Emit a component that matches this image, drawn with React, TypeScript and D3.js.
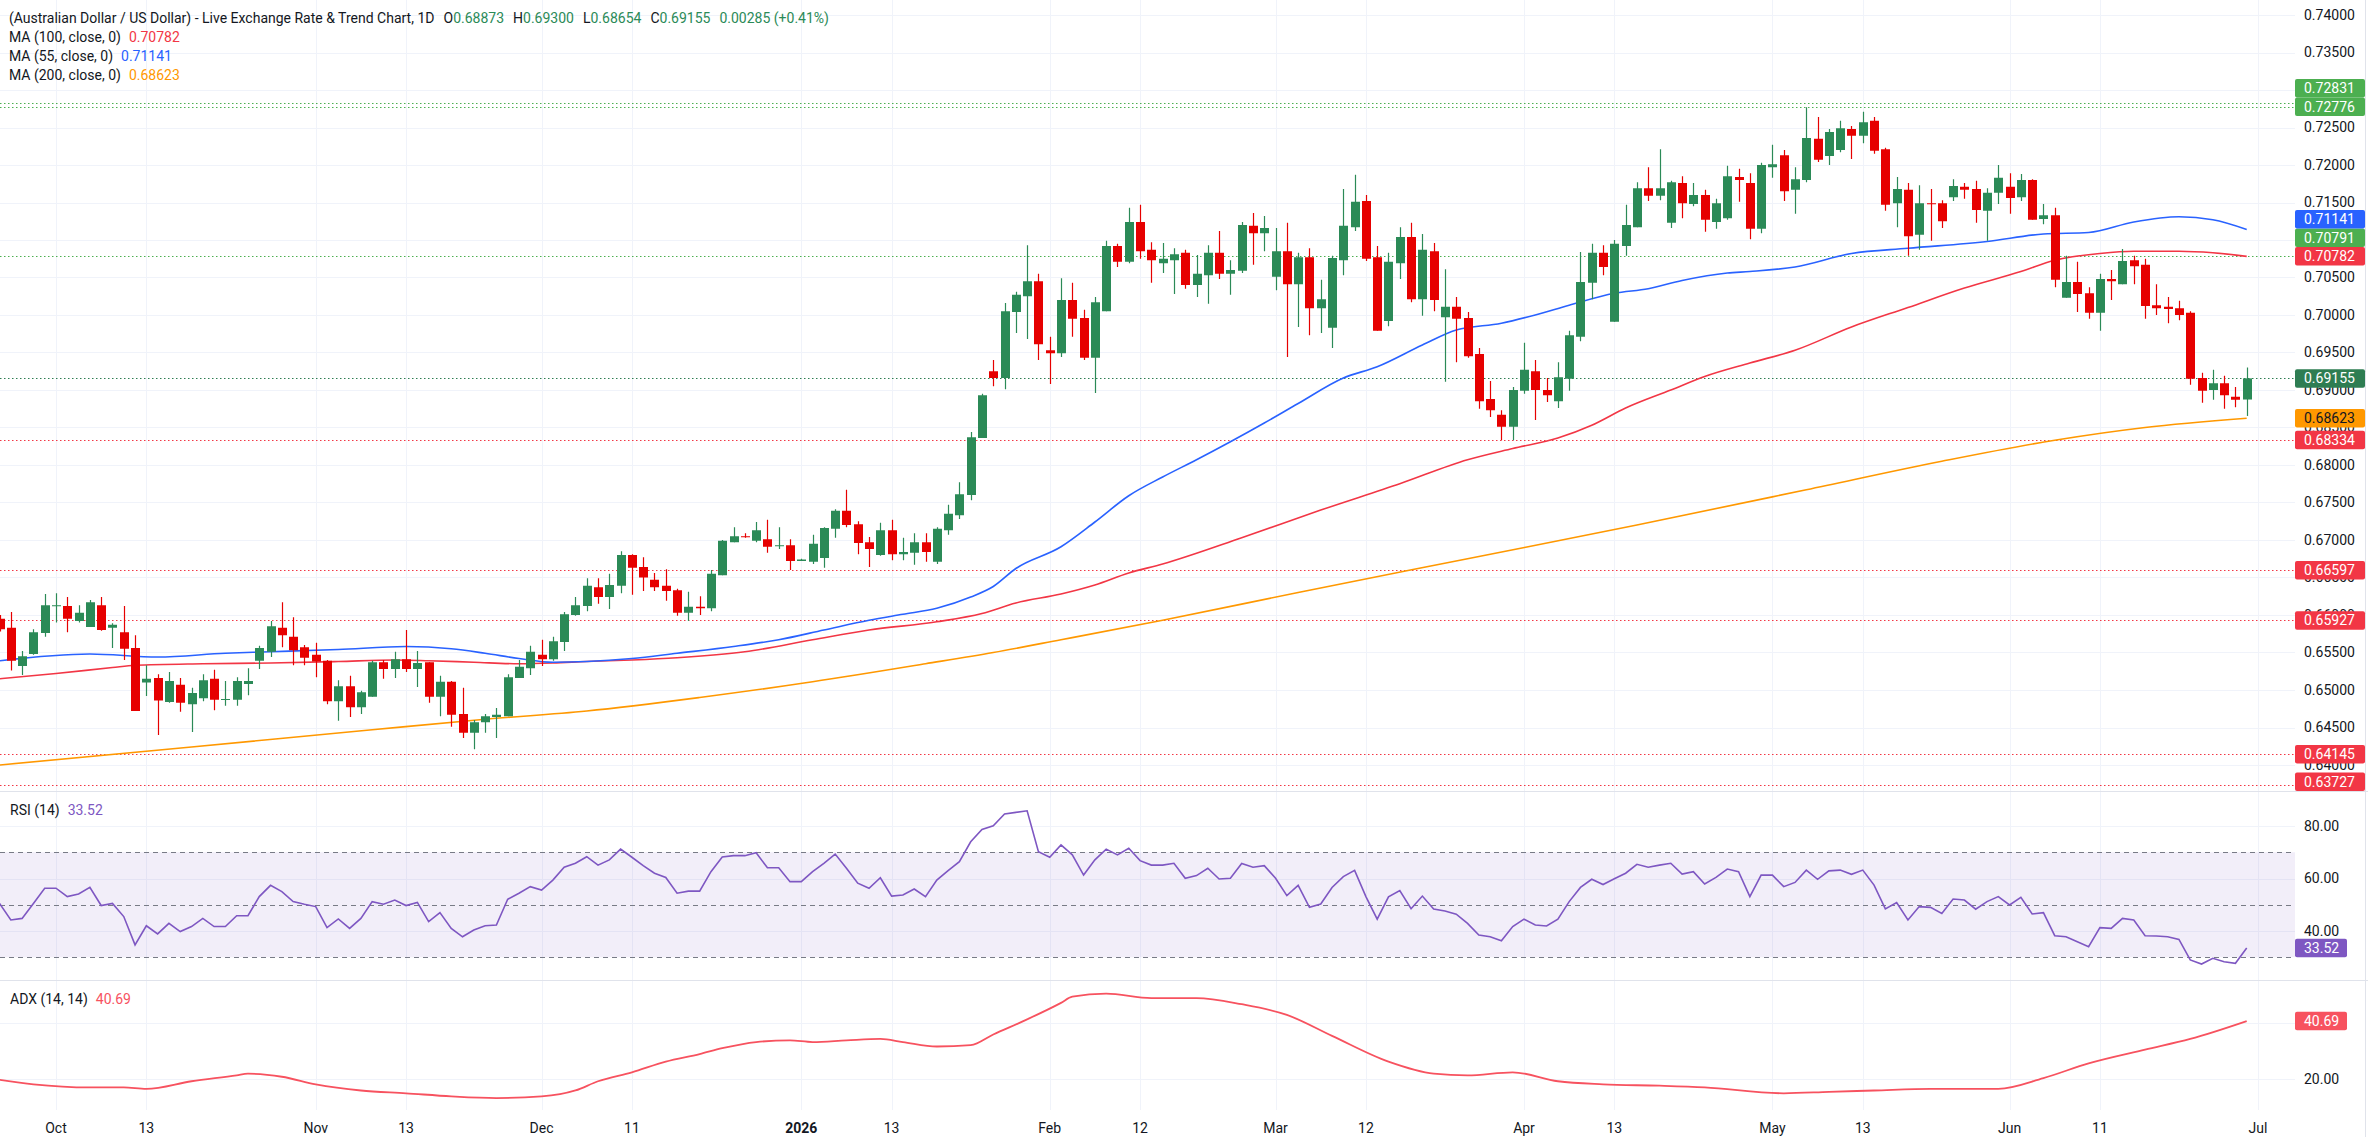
import React from "react";
import * as d3 from "d3";

// ---- data (AUD/USD daily, one value per trading day starting 2025-09-24) ----
const opens = [
  0.6595, 0.6583, 0.6532, 0.6548, 0.6576, 0.6612, 0.6612, 0.6592, 0.6584, 0.6613,
  0.6583, 0.6577, 0.6556, 0.651, 0.6516, 0.6484, 0.6507, 0.6481, 0.6489, 0.6515,
  0.6487, 0.6487, 0.6508, 0.6539, 0.6551, 0.6583, 0.6571, 0.6557, 0.6547, 0.6539,
  0.6485, 0.6505, 0.6477, 0.6491, 0.6537, 0.6528, 0.6541, 0.6528, 0.6537, 0.6491,
  0.6511, 0.6468, 0.6443, 0.6457, 0.6464, 0.6465, 0.6516, 0.6529, 0.6547, 0.6541,
  0.6564, 0.66, 0.6612, 0.6637, 0.6624, 0.6639, 0.668, 0.6664, 0.6647, 0.6639,
  0.6633, 0.6603, 0.6611, 0.6609, 0.6653, 0.6697, 0.6705, 0.6699, 0.6701, 0.6692,
  0.6693, 0.6672, 0.6671, 0.6676, 0.6715, 0.6739, 0.6721, 0.6697, 0.668, 0.6713,
  0.6681, 0.6683, 0.6697, 0.6671, 0.6713, 0.6733, 0.676, 0.6836, 0.6925, 0.6916,
  0.7004, 0.7025, 0.7045, 0.6953, 0.6949, 0.702, 0.6996, 0.6943, 0.7005, 0.7092,
  0.7071, 0.7124, 0.7087, 0.7069, 0.7073, 0.7083, 0.704, 0.7053, 0.7083, 0.7055,
  0.7059, 0.7119, 0.7109, 0.7051, 0.7085, 0.7041, 0.7077, 0.7009, 0.6983, 0.7073,
  0.7117, 0.7152, 0.7077, 0.6992, 0.7069, 0.7104, 0.7021, 0.7085, 0.6997, 0.7011,
  0.6996, 0.6948, 0.6888, 0.6867, 0.6851, 0.6899, 0.6925, 0.69, 0.6885, 0.6915,
  0.6971, 0.7043, 0.7083, 0.6991, 0.7092, 0.7117, 0.7169, 0.7159, 0.7123, 0.7176,
  0.7148, 0.716, 0.7124, 0.7129, 0.7184, 0.7176, 0.7115, 0.7197, 0.7213, 0.7167,
  0.718, 0.7235, 0.7212, 0.722, 0.7248, 0.7239, 0.7259, 0.7221, 0.7149, 0.7167,
  0.7107, 0.7149, 0.7149, 0.7157, 0.7171, 0.7168, 0.7139, 0.7163, 0.7171, 0.7157,
  0.718, 0.7128, 0.7133, 0.7023, 0.7044, 0.7029, 0.7003, 0.7048, 0.7041, 0.7073,
  0.7067, 0.7013, 0.7011, 0.7009, 0.7003, 0.6916, 0.69, 0.6909, 0.6891, 0.68873,
];
const highs = [
  0.66, 0.6604, 0.6552, 0.6581, 0.6628, 0.6629, 0.6624, 0.6613, 0.662, 0.6624,
  0.6589, 0.6612, 0.6573, 0.6533, 0.6521, 0.6524, 0.6516, 0.6503, 0.6521, 0.6527,
  0.6512, 0.6517, 0.6529, 0.6559, 0.6592, 0.6617, 0.6597, 0.656, 0.6563, 0.654,
  0.6513, 0.6519, 0.6499, 0.6539, 0.654, 0.6551, 0.658, 0.6552, 0.6537, 0.6519,
  0.6512, 0.6503, 0.646, 0.6468, 0.6476, 0.6521, 0.654, 0.6559, 0.6567, 0.6571,
  0.6604, 0.6624, 0.6649, 0.6649, 0.6655, 0.6685, 0.6681, 0.6677, 0.6656, 0.6661,
  0.6635, 0.6631, 0.6625, 0.666, 0.67, 0.6717, 0.6709, 0.6724, 0.6727, 0.6717,
  0.6701, 0.6675, 0.6707, 0.6717, 0.6741, 0.6767, 0.6725, 0.6704, 0.6723, 0.6727,
  0.6703, 0.6709, 0.6709, 0.6717, 0.6747, 0.6777, 0.6844, 0.6895, 0.694, 0.7016,
  0.7031, 0.7093, 0.7055, 0.6971, 0.7049, 0.7043, 0.7007, 0.7024, 0.7099, 0.7095,
  0.7143, 0.7147, 0.7097, 0.7096, 0.7089, 0.7087, 0.708, 0.7093, 0.7112, 0.7073,
  0.7124, 0.7136, 0.7132, 0.7116, 0.7123, 0.7083, 0.7089, 0.7047, 0.7079, 0.7168,
  0.7187, 0.716, 0.7092, 0.7083, 0.7117, 0.7123, 0.7108, 0.7096, 0.7061, 0.7024,
  0.7004, 0.6956, 0.6912, 0.6873, 0.6904, 0.6963, 0.694, 0.6916, 0.6937, 0.6979,
  0.7084, 0.7095, 0.7093, 0.71, 0.7147, 0.7177, 0.7197, 0.7221, 0.7179, 0.7185,
  0.7176, 0.7167, 0.7155, 0.7199, 0.7195, 0.7189, 0.7203, 0.7227, 0.722, 0.7197,
  0.7277, 0.7264, 0.7248, 0.7259, 0.7252, 0.7271, 0.7264, 0.7223, 0.7184, 0.7176,
  0.7173, 0.7168, 0.7153, 0.7181, 0.7176, 0.7179, 0.7169, 0.72, 0.7189, 0.7188,
  0.7181, 0.7148, 0.7143, 0.7079, 0.7071, 0.7037, 0.7055, 0.706, 0.7088, 0.7079,
  0.7075, 0.7041, 0.7024, 0.7019, 0.7005, 0.6923, 0.6927, 0.6919, 0.6904, 0.693,
];
const lows = [
  0.6578, 0.6526, 0.652, 0.6547, 0.6571, 0.659, 0.6577, 0.659, 0.6584, 0.6579,
  0.6556, 0.654, 0.6472, 0.6492, 0.644, 0.6483, 0.6471, 0.6444, 0.6485, 0.6473,
  0.6479, 0.6479, 0.6493, 0.6528, 0.6544, 0.6557, 0.6533, 0.6533, 0.6517, 0.6481,
  0.6459, 0.6464, 0.6468, 0.6491, 0.6515, 0.6516, 0.6524, 0.6504, 0.6483, 0.6465,
  0.6451, 0.6436, 0.6421, 0.6443, 0.6436, 0.6465, 0.6516, 0.652, 0.6532, 0.6539,
  0.6552, 0.6599, 0.6605, 0.6615, 0.6608, 0.6629, 0.6627, 0.6632, 0.6632, 0.6619,
  0.6599, 0.6592, 0.66, 0.6605, 0.6653, 0.6697, 0.6703, 0.6697, 0.6683, 0.6688,
  0.666, 0.6672, 0.6668, 0.6663, 0.6703, 0.6717, 0.6681, 0.6664, 0.6679, 0.6673,
  0.6673, 0.6667, 0.6671, 0.6668, 0.6707, 0.6728, 0.6753, 0.6836, 0.6905, 0.6901,
  0.6976, 0.6968, 0.694, 0.6908, 0.6944, 0.6971, 0.694, 0.6896, 0.7005, 0.7064,
  0.7069, 0.7075, 0.7043, 0.7056, 0.7028, 0.7035, 0.7024, 0.7015, 0.7048, 0.7027,
  0.7056, 0.7067, 0.7085, 0.7033, 0.6944, 0.6984, 0.6973, 0.6976, 0.6956, 0.7053,
  0.7112, 0.7072, 0.6979, 0.6985, 0.7048, 0.7017, 0.6999, 0.7005, 0.6911, 0.6937,
  0.6943, 0.6875, 0.6864, 0.6833, 0.6833, 0.6895, 0.686, 0.6884, 0.6876, 0.6899,
  0.6965, 0.7021, 0.7053, 0.6991, 0.7079, 0.7117, 0.7152, 0.7153, 0.7116, 0.7129,
  0.7145, 0.7111, 0.7115, 0.7127, 0.7151, 0.7101, 0.7109, 0.7183, 0.7152, 0.7135,
  0.7177, 0.7204, 0.72, 0.7217, 0.7208, 0.7229, 0.7215, 0.7139, 0.7117, 0.7079,
  0.7087, 0.7099, 0.7116, 0.7152, 0.7155, 0.7123, 0.7099, 0.7148, 0.7135, 0.7152,
  0.7127, 0.7121, 0.7037, 0.7023, 0.7004, 0.6995, 0.6979, 0.702, 0.7041, 0.7041,
  0.6995, 0.7, 0.6989, 0.6993, 0.6907, 0.6883, 0.6887, 0.6875, 0.6877, 0.68654,
];
const closes = [
  0.6581, 0.6539, 0.6545, 0.6577, 0.6613, 0.6613, 0.6595, 0.6603, 0.6617, 0.658,
  0.6587, 0.6555, 0.6472, 0.6515, 0.6486, 0.6512, 0.6483, 0.6496, 0.6513, 0.6487,
  0.6488, 0.6512, 0.6512, 0.6556, 0.6585, 0.6573, 0.6553, 0.6543, 0.6538, 0.6485,
  0.6505, 0.6477, 0.6497, 0.6537, 0.6528, 0.6541, 0.6528, 0.6536, 0.6491, 0.6511,
  0.6467, 0.6443, 0.6457, 0.6465, 0.6467, 0.6517, 0.6531, 0.6551, 0.6541, 0.6565,
  0.6601, 0.6613, 0.6639, 0.6624, 0.664, 0.668, 0.6663, 0.665, 0.6637, 0.6632,
  0.6603, 0.6611, 0.6609, 0.6655, 0.6699, 0.6705, 0.6704, 0.6713, 0.6691, 0.6693,
  0.6672, 0.6674, 0.6695, 0.6716, 0.6739, 0.672, 0.6696, 0.6688, 0.6713, 0.6681,
  0.6684, 0.6697, 0.6684, 0.6715, 0.6735, 0.6761, 0.6837, 0.6893, 0.6916, 0.7005,
  0.7027, 0.7045, 0.6961, 0.6949, 0.702, 0.6995, 0.6943, 0.7017, 0.7092, 0.7071,
  0.7124, 0.7085, 0.7073, 0.7075, 0.7081, 0.704, 0.7055, 0.7083, 0.7055, 0.706,
  0.712, 0.7109, 0.7116, 0.7085, 0.7041, 0.7077, 0.7009, 0.7021, 0.7076, 0.7119,
  0.7151, 0.7075, 0.6979, 0.7071, 0.7104, 0.7021, 0.7087, 0.702, 0.7011, 0.6995,
  0.6945, 0.6885, 0.6873, 0.6851, 0.69, 0.6927, 0.69, 0.6893, 0.6917, 0.6973,
  0.7044, 0.7083, 0.7064, 0.7095, 0.712, 0.7169, 0.7159, 0.7169, 0.7177, 0.7149,
  0.716, 0.7127, 0.7149, 0.7185, 0.718, 0.7115, 0.72, 0.7201, 0.7165, 0.7181,
  0.7236, 0.7207, 0.7244, 0.7249, 0.7239, 0.7257, 0.7219, 0.7147, 0.7168, 0.7105,
  0.7149, 0.7148, 0.7125, 0.7172, 0.7167, 0.714, 0.7163, 0.7183, 0.7156, 0.718,
  0.7127, 0.7133, 0.7047, 0.7044, 0.7028, 0.7003, 0.7048, 0.7045, 0.7072, 0.7065,
  0.7012, 0.7009, 0.7008, 0.7, 0.6915, 0.6899, 0.6909, 0.6893, 0.6887, 0.69155,
];

// moving averages: [bar, value]
const ma55: [number, number][] = [
  [0, 0.6539], [8, 0.6548], [14, 0.6544], [20, 0.6549], [24, 0.6551], [30, 0.6554], [36, 0.6558],
  [40, 0.6555], [43, 0.6549], [46, 0.6542], [49, 0.6537], [52, 0.6538], [56, 0.6542], [60, 0.6549],
  [65, 0.6558], [69, 0.6567], [73, 0.658], [77, 0.6593], [80, 0.6601], [83, 0.6609], [86, 0.6624],
  [88, 0.6638], [90, 0.6662], [94, 0.6691], [97, 0.6724], [100, 0.6759], [103, 0.6784], [106, 0.6807],
  [109, 0.6831], [112, 0.6856], [115, 0.6882], [119, 0.6916], [122, 0.6931], [126, 0.696], [129, 0.698],
  [133, 0.6989], [136, 0.7], [139, 0.7013], [143, 0.7029], [146, 0.7035], [149, 0.7046], [153, 0.7056],
  [155, 0.7058], [159, 0.7064], [164, 0.7082], [169, 0.7089], [176, 0.7098], [181, 0.7108], [185, 0.711],
  [189, 0.7124], [193, 0.7131], [196, 0.7127], [199, 0.71141],
];
const ma100: [number, number][] = [
  [0, 0.6515], [5, 0.6522], [10, 0.653], [12, 0.6533], [18, 0.6535], [24, 0.6536], [30, 0.6538],
  [35, 0.654], [38, 0.6539], [42, 0.6537], [46, 0.6535], [49, 0.6536], [52, 0.6538], [56, 0.654],
  [60, 0.6543], [66, 0.6551], [72, 0.6567], [77, 0.658], [83, 0.6591], [87, 0.6602], [90, 0.6616],
  [94, 0.6628], [97, 0.664], [100, 0.6656], [103, 0.6668], [110, 0.6703], [117, 0.674], [124, 0.6775],
  [130, 0.6807], [134, 0.6822], [138, 0.6836], [141, 0.6853], [144, 0.6876], [148, 0.69], [151, 0.6918],
  [155, 0.6936], [159, 0.6953], [164, 0.6984], [169, 0.701], [174, 0.7036], [179, 0.7058], [182, 0.7073],
  [186, 0.7082], [189, 0.7085], [193, 0.7085], [196, 0.7083], [199, 0.70782],
];
const ma200: [number, number][] = [
  [0, 0.64], [17, 0.6424], [33, 0.6447], [43, 0.6461], [52, 0.6472], [62, 0.649], [72, 0.6511],
  [82, 0.6535], [88, 0.655], [94, 0.6567], [103, 0.6593], [115, 0.663], [130, 0.6675], [145, 0.672],
  [160, 0.6767], [172, 0.6805], [182, 0.6833], [190, 0.685], [199, 0.68623],
];

const rsi = [
  50.5, 44.2, 44.8, 50.5, 56.3, 56.3, 53.1, 54.1, 56.6, 49.7,
  50.5, 45.5, 34.7, 42.0, 38.9, 42.9, 39.8, 41.7, 44.8, 41.7,
  41.7, 45.8, 45.8, 53.1, 57.4, 55.0, 51.2, 50.2, 49.3, 41.3,
  44.6, 41.0, 44.8, 51.2, 50.2, 51.8, 49.7, 50.9, 43.6, 47.0,
  41.0, 37.8, 40.4, 42.0, 42.3, 52.1, 54.4, 56.9, 55.6, 59.4,
  64.3, 65.8, 68.3, 65.1, 67.1, 71.2, 68.1, 64.9, 62.0, 60.4,
  54.4, 55.2, 55.2, 62.6, 68.2, 68.7, 68.7, 69.8, 64.1, 64.1,
  58.8, 58.8, 62.6, 65.8, 69.3, 63.9, 58.2, 56.3, 60.3, 53.3,
  53.7, 56.0, 53.1, 59.4, 63.0, 66.4, 74.0, 78.7, 80.1, 84.6,
  85.2, 85.8, 70.2, 68.1, 72.8, 69.0, 61.3, 67.1, 71.2, 69.0,
  71.5, 66.8, 65.1, 65.1, 65.8, 60.1, 61.1, 63.9, 59.8, 60.1,
  65.7, 64.3, 64.9, 60.1, 53.5, 57.4, 49.0, 50.3, 56.6, 60.7,
  63.1, 53.1, 44.5, 53.0, 55.4, 48.5, 53.3, 48.4, 47.6, 46.4,
  42.9, 38.5, 37.8, 36.3, 41.7, 44.5, 42.3, 41.9, 44.5, 51.2,
  56.6, 59.7, 57.7, 59.9, 62.0, 65.4, 64.3, 65.1, 65.8, 61.7,
  62.6, 57.9, 60.4, 63.6, 62.6, 53.1, 61.3, 61.3, 56.9, 58.5,
  63.2, 59.7, 62.9, 63.2, 61.6, 63.2, 57.5, 48.4, 50.8, 44.2,
  49.3, 49.0, 46.7, 52.2, 51.8, 48.3, 51.2, 53.1, 49.9, 52.8,
  46.5, 47.0, 38.2, 37.8, 35.9, 34.0, 41.3, 41.0, 44.8, 44.2,
  38.2, 38.1, 37.8, 36.8, 29.0, 27.4, 29.6, 28.3, 27.7, 33.52,
];

const adx: [number, number][] = [
  [0, 19.7], [3, 18.1], [8, 17.0], [11, 17.0], [13, 16.5], [17, 19.2], [21, 21.3], [22, 21.9],
  [25, 20.8], [28, 18.1], [32, 15.9], [36, 14.9], [40, 13.8], [44, 13.2], [48, 13.8], [51, 15.9],
  [53, 19.2], [56, 22.4], [59, 26.2], [62, 28.9], [64, 31.0], [67, 33.2], [70, 33.8], [72, 33.2],
  [75, 33.8], [78, 34.3], [80, 33.2], [83, 31.6], [86, 32.1], [88, 35.9], [91, 41.3], [94, 47.2],
  [95, 49.4], [98, 50.5], [102, 48.9], [106, 48.9], [110, 46.7], [114, 42.9], [118, 35.4], [123, 26.2],
  [127, 21.9], [130, 21.3], [134, 22.4], [138, 19.2], [142, 18.1], [147, 17.6], [151, 17.0], [158, 14.9],
  [162, 15.4], [166, 15.9], [171, 16.5], [177, 16.5], [181, 20.3], [185, 25.6], [190, 30.5], [194, 34.3],
  [199, 40.69],
];

const resistanceLevels = [0.72831, 0.72776, 0.70791];
const supportLevels = [0.68334, 0.66597, 0.65927, 0.64145, 0.63727];

const tickDates = [
  "2025-10-01", "2025-10-13", "2025-11-03", "2025-11-13", "2025-12-01", "2025-12-11", "2026-01-01",
  "2026-01-13", "2026-02-02", "2026-02-12", "2026-03-02", "2026-03-12", "2026-04-01", "2026-04-13",
  "2026-05-01", "2026-05-13", "2026-06-01", "2026-06-11", "2026-07-01",
];
const tickLabels = [
  "Oct", "13", "Nov", "13", "Dec", "11", "2026", "13", "Feb", "12", "Mar", "12", "Apr", "13",
  "May", "13", "Jun", "11", "Jul",
];
const priceTicks = d3.range(0.64, 0.74001, 0.005);
const rsiTicks = [80, 60, 40];
const adxTicks = [40, 20];

// ---- layout ----
const W = 2368;
const H = 1137;
const PLOT_R = 2295;
const MAIN_B = 791;
const RSI_T = 792;
const RSI_B = 980;
const ADX_T = 981;
const GRID_B = 1110;
const FONT = "Roboto, 'Noto Sans', Arial, sans-serif";
const TEXT = "#131722";
const UP = "#2b8a57";
const DOWN = "#e60000";

const START = Date.UTC(2025, 8, 24);
function barIndex(s: string) {
  const t = Date.parse(s + "T00:00:00Z");
  let n = 0;
  for (let d = START; d < t; d += 86400000) {
    const wd = new Date(d).getUTCDay();
    if (wd !== 0 && wd !== 6) n++;
  }
  return n;
}

export default function App() {
  const x = d3.scaleLinear().domain([5, 200]).range([56, 2258]);
  const y = d3.scaleLinear().domain([0.74, 0.64]).range([15, 765]);
  const yR = d3.scaleLinear().domain([80, 40]).range([826, 931]);
  const yA = d3.scaleLinear().domain([40, 20]).range([1023, 1079]);
  const fmt = d3.format(".5f");

  const priceLine = d3
    .line<[number, number]>()
    .x((d) => x(d[0]))
    .y((d) => y(d[1]))
    .curve(d3.curveMonotoneX);
  const rsiLine = d3
    .line<number>()
    .x((_, i) => x(i))
    .y((d) => yR(d));
  const adxLine = d3
    .line<[number, number]>()
    .x((d) => x(d[0]))
    .y((d) => yA(d[1]))
    .curve(d3.curveMonotoneX);

  const n = closes.length;
  const last = n - 1;
  const chg = closes[last] - closes[last - 1];
  const chgPct = (chg / closes[last - 1]) * 100;

  // right-axis badges, stacked so they don't overlap
  const badges = [
    ...resistanceLevels.map((v) => ({ v, bg: "#4caf50", fg: "#fff" })),
    ...supportLevels.map((v) => ({ v, bg: "#f23645", fg: "#fff" })),
    { v: closes[last], bg: "#2e7d52", fg: "#fff" },
    { v: ma55[ma55.length - 1][1], bg: "#2962ff", fg: "#fff" },
    { v: ma100[ma100.length - 1][1], bg: "#f23645", fg: "#fff" },
    { v: ma200[ma200.length - 1][1], bg: "#ff9800", fg: "#131722" },
  ].sort((a, b) => a.v - b.v);
  const BH = 18.5;
  let prev = MAIN_B - BH / 2 + BH;
  const placed = badges.map((b) => {
    const cy = Math.min(y(b.v), prev - BH);
    prev = cy;
    return { ...b, cy };
  });

  const gridColor = "#f0f3fa";

  return (
    <div>
      <style>{"body{margin:0;background:#fff}"}</style>
      <svg width={W} height={H} style={{ display: "block", fontFamily: FONT }}>
        <defs>
          <clipPath id="mainClip">
            <rect x={0} y={0} width={PLOT_R} height={MAIN_B} />
          </clipPath>
          <clipPath id="rsiClip">
            <rect x={0} y={RSI_T} width={PLOT_R} height={RSI_B - RSI_T} />
          </clipPath>
          <clipPath id="adxClip">
            <rect x={0} y={ADX_T} width={PLOT_R} height={GRID_B - ADX_T} />
          </clipPath>
        </defs>
        <rect x={0} y={0} width={W} height={H} fill="#fff" />

        {/* grid */}
        {priceTicks.map((t) => (
          <line key={"pg" + t} x1={0} x2={PLOT_R} y1={Math.round(y(t)) + 0.5} y2={Math.round(y(t)) + 0.5} stroke={gridColor} />
        ))}
        {rsiTicks.map((t) => (
          <line key={"rg" + t} x1={0} x2={PLOT_R} y1={Math.round(yR(t)) + 0.5} y2={Math.round(yR(t)) + 0.5} stroke={gridColor} />
        ))}
        {adxTicks.map((t) => (
          <line key={"ag" + t} x1={0} x2={PLOT_R} y1={Math.round(yA(t)) + 0.5} y2={Math.round(yA(t)) + 0.5} stroke={gridColor} />
        ))}
        {tickDates.map((d) => {
          const xx = Math.round(x(barIndex(d))) + 0.5;
          return <line key={"vg" + d} x1={xx} x2={xx} y1={0} y2={GRID_B} stroke={gridColor} />;
        })}

        {/* panel separators */}
        <line x1={0} x2={W} y1={MAIN_B + 0.5} y2={MAIN_B + 0.5} stroke="#e0e3eb" />
        <line x1={0} x2={W} y1={RSI_B + 0.5} y2={RSI_B + 0.5} stroke="#e0e3eb" />
        <line x1={W - 2.5} x2={W - 2.5} y1={0} y2={H} stroke="#e0e3eb" />

        {/* main panel */}
        <g clipPath="url(#mainClip)">
          {resistanceLevels.map((v) => (
            <line key={"rl" + v} x1={0} x2={PLOT_R} y1={Math.round(y(v)) + 0.5} y2={Math.round(y(v)) + 0.5} stroke="#4caf50" strokeDasharray="1.5,2.5" />
          ))}
          {supportLevels.map((v) => (
            <line key={"sl" + v} x1={0} x2={PLOT_R} y1={Math.round(y(v)) + 0.5} y2={Math.round(y(v)) + 0.5} stroke="#f23645" strokeDasharray="1.5,2.5" />
          ))}
          <line x1={0} x2={PLOT_R} y1={Math.round(y(closes[last])) + 0.5} y2={Math.round(y(closes[last])) + 0.5} stroke="#2e7d52" strokeDasharray="1.5,2.5" />

          <path d={priceLine(ma200) || ""} fill="none" stroke="#ff9800" strokeWidth={1.6} />
          <path d={priceLine(ma100) || ""} fill="none" stroke="#f23645" strokeWidth={1.6} />
          <path d={priceLine(ma55) || ""} fill="none" stroke="#2962ff" strokeWidth={1.6} />

          {closes.map((c, i) => {
            const o = opens[i];
            const col = c >= o ? UP : DOWN;
            const cx = Math.round(x(i));
            const top = y(Math.max(o, c));
            const bot = y(Math.min(o, c));
            return (
              <g key={"c" + i}>
                <line x1={cx + 0.5} x2={cx + 0.5} y1={y(highs[i])} y2={y(lows[i])} stroke={col} strokeWidth={1.2} />
                <rect x={cx - 4} y={top} width={9} height={Math.max(1, bot - top)} fill={col} />
              </g>
            );
          })}
        </g>

        {/* RSI panel */}
        <g clipPath="url(#rsiClip)">
          <rect x={0} y={yR(70)} width={PLOT_R} height={yR(30) - yR(70)} fill="rgba(126,87,194,0.1)" />
          {[70, 50, 30].map((v) => (
            <line key={"rd" + v} x1={0} x2={PLOT_R} y1={Math.round(yR(v)) + 0.5} y2={Math.round(yR(v)) + 0.5} stroke="#787b86" strokeDasharray="5,4" />
          ))}
          <path d={rsiLine(rsi) || ""} fill="none" stroke="#7e57c2" strokeWidth={1.6} />
        </g>

        {/* ADX panel */}
        <g clipPath="url(#adxClip)">
          <path d={adxLine(adx) || ""} fill="none" stroke="#f7525f" strokeWidth={1.8} />
        </g>

        {/* legends */}
        <text x={9} y={23} fontSize={14} fill={TEXT} style={{ whiteSpace: "pre" }}>
          <tspan>{"(Australian Dollar / US Dollar) - Live Exchange Rate & Trend Chart, 1D"}</tspan>
          <tspan dx={9}>O</tspan>
          <tspan fill={UP}>{fmt(opens[last])}</tspan>
          <tspan dx={9}>H</tspan>
          <tspan fill={UP}>{fmt(highs[last])}</tspan>
          <tspan dx={9}>L</tspan>
          <tspan fill={UP}>{fmt(lows[last])}</tspan>
          <tspan dx={9}>C</tspan>
          <tspan fill={UP}>{fmt(closes[last])}</tspan>
          <tspan dx={9} fill={UP}>{`${fmt(chg)} (+${chgPct.toFixed(2)}%)`}</tspan>
        </text>
        <text x={9} y={42} fontSize={14} fill={TEXT}>
          <tspan>MA (100, close, 0)</tspan>
          <tspan dx={8} fill="#f23645">{fmt(ma100[ma100.length - 1][1])}</tspan>
        </text>
        <text x={9} y={61} fontSize={14} fill={TEXT}>
          <tspan>MA (55, close, 0)</tspan>
          <tspan dx={8} fill="#2962ff">{fmt(ma55[ma55.length - 1][1])}</tspan>
        </text>
        <text x={9} y={80} fontSize={14} fill={TEXT}>
          <tspan>MA (200, close, 0)</tspan>
          <tspan dx={8} fill="#ff9800">{fmt(ma200[ma200.length - 1][1])}</tspan>
        </text>
        <text x={10} y={815} fontSize={14} fill={TEXT}>
          <tspan>RSI (14)</tspan>
          <tspan dx={8} fill="#7e57c2">{rsi[last].toFixed(2)}</tspan>
        </text>
        <text x={10} y={1004} fontSize={14} fill={TEXT}>
          <tspan>ADX (14, 14)</tspan>
          <tspan dx={8} fill="#f7525f">{adx[adx.length - 1][1].toFixed(2)}</tspan>
        </text>

        {/* right axis labels */}
        {priceTicks.map((t) => (
          <text key={"pl" + t} x={2304} y={y(t)} dy="0.35em" fontSize={14} fill={TEXT}>
            {fmt(t)}
          </text>
        ))}
        {rsiTicks.map((t) => (
          <text key={"rl" + t} x={2304} y={yR(t)} dy="0.35em" fontSize={14} fill={TEXT}>
            {t.toFixed(2)}
          </text>
        ))}
        {adxTicks.map((t) => (
          <text key={"al" + t} x={2304} y={yA(t)} dy="0.35em" fontSize={14} fill={TEXT}>
            {t.toFixed(2)}
          </text>
        ))}

        {/* badges */}
        {placed.map((b) => (
          <g key={"b" + b.v}>
            <rect x={PLOT_R} y={b.cy - BH / 2} width={70} height={BH} rx={2} fill={b.bg} />
            <text x={2304} y={b.cy} dy="0.35em" fontSize={14} fill={b.fg}>
              {fmt(b.v)}
            </text>
          </g>
        ))}
        <rect x={PLOT_R} y={yR(rsi[last]) - BH / 2} width={52} height={BH} rx={2} fill="#7e57c2" />
        <text x={2304} y={yR(rsi[last])} dy="0.35em" fontSize={14} fill="#fff">
          {rsi[last].toFixed(2)}
        </text>
        <rect x={PLOT_R} y={yA(adx[adx.length - 1][1]) - BH / 2} width={52} height={BH} rx={2} fill="#f7525f" />
        <text x={2304} y={yA(adx[adx.length - 1][1])} dy="0.35em" fontSize={14} fill="#fff">
          {adx[adx.length - 1][1].toFixed(2)}
        </text>

        {/* x axis labels */}
        {tickDates.map((d, k) => (
          <text
            key={"xl" + d}
            x={x(barIndex(d))}
            y={1128}
            dy="0.35em"
            textAnchor="middle"
            fontSize={14}
            fontWeight={tickLabels[k] === "2026" ? 700 : 400}
            fill={TEXT}
          >
            {tickLabels[k]}
          </text>
        ))}
      </svg>
    </div>
  );
}
